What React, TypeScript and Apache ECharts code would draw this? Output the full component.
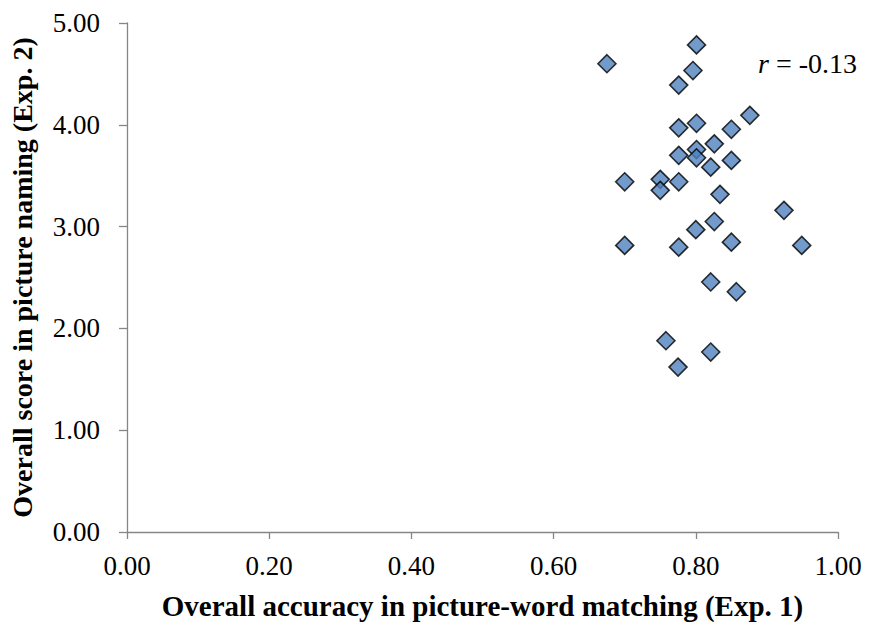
import React, { useEffect, useRef } from "react";
import * as echarts from "echarts";

const xValues = [0.675, 0.801, 0.796, 0.776, 0.876, 0.776, 0.801, 0.850, 0.826, 0.801, 0.776, 0.801, 0.821, 0.850,
  0.700, 0.750, 0.750, 0.776, 0.834, 0.924, 0.826, 0.800, 0.700, 0.776, 0.850, 0.949, 0.821, 0.857, 0.758, 0.821, 0.775];
const yValues = [4.60, 4.785, 4.533, 4.39, 4.093, 3.97, 4.015, 3.956, 3.813, 3.757, 3.70, 3.676, 3.584, 3.65,
  3.44, 3.464, 3.356, 3.44, 3.317, 3.16, 3.05, 2.97, 2.815, 2.798, 2.847, 2.815, 2.456, 2.36, 1.879, 1.768, 1.62];
const xTickLabels = ["0.00", "0.20", "0.40", "0.60", "0.80", "1.00"];
const yTickLabels = ["0.00", "1.00", "2.00", "3.00", "4.00", "5.00"];
const correlationText = "-0.13";

const FONT = "'Liberation Serif', 'Times New Roman', serif";

export default function App() {
  const ref = useRef<HTMLDivElement>(null);
  useEffect(() => {
    if (!ref.current) return;
    const chart = echarts.init(ref.current, undefined, { renderer: "svg" });
    const points = xValues.map((x, i) => [x, yValues[i]]);
    const axisLine = { show: true, lineStyle: { color: "#868686", width: 1.3 } };
    chart.setOption({
      animation: false,
      backgroundColor: "#ffffff",
      grid: { left: 123, top: 23, right: 31, bottom: 91, containLabel: false },
      xAxis: {
        type: "value",
        min: 0,
        max: 1,
        interval: 0.2,
        axisLine,
        axisTick: { show: true, inside: false, length: 7, lineStyle: { color: "#868686", width: 1.3 } },
        splitLine: { show: false },
        axisLabel: {
          margin: 20,
          fontFamily: FONT,
          fontSize: 27,
          color: "#000",
          formatter: (v: number) => xTickLabels[Math.round(v / 0.2)] ?? "",
        },
        name: "Overall accuracy in picture-word matching (Exp. 1)",
        nameLocation: "middle",
        nameGap: 59,
        nameTextStyle: { fontFamily: FONT, fontSize: 29, fontWeight: "bold", color: "#000" },
      },
      yAxis: {
        type: "value",
        min: 0,
        max: 5,
        interval: 1,
        axisLine,
        axisTick: { show: true, inside: false, length: 8, lineStyle: { color: "#868686", width: 1.3 } },
        splitLine: { show: false },
        axisLabel: {
          margin: 27,
          fontFamily: FONT,
          fontSize: 27,
          color: "#000",
          formatter: (v: number) => yTickLabels[Math.round(v)] ?? "",
        },
        name: "Overall score in picture naming (Exp. 2)",
        nameLocation: "middle",
        nameGap: 91,
        nameTextStyle: { fontFamily: FONT, fontSize: 28, fontWeight: "bold", color: "#000" },
      },
      series: [
        {
          type: "scatter",
          data: points,
          symbol: "diamond",
          symbolSize: [18, 18],
          itemStyle: { color: "#4F81BD", borderColor: "#000", borderWidth: 1.6 },
        },
      ],
      graphic: [
        {
          type: "text",
          left: 758,
          top: 49,
          style: {
            text: "{i|r} = " + correlationText,
            rich: {
              i: { fontFamily: FONT, fontSize: 28, fontStyle: "italic", fill: "#000" },
            },
            fontFamily: FONT,
            fontSize: 28,
            fill: "#000",
          },
        },
      ],
    });
    return () => chart.dispose();
  }, []);
  return <div ref={ref} style={{ width: 869, height: 625, position: "absolute", left: 0, top: 0 }} />;
}
